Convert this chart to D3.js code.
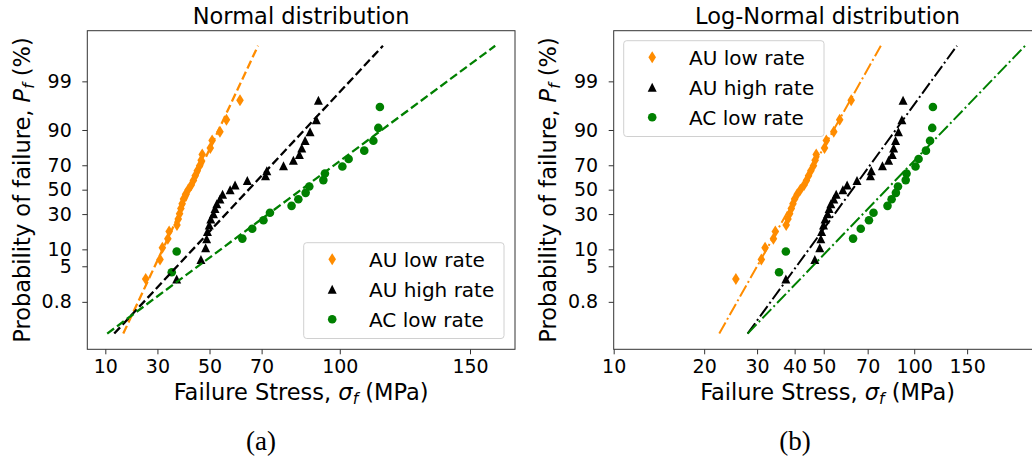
<!DOCTYPE html>
<html>
<head>
<meta charset="utf-8">
<script src="https://cdn.jsdelivr.net/npm/d3@7"></script>
<style>
  html, body { margin: 0; padding: 0; background: #fff; }
  svg { display: block; font-family: "DejaVu Sans", sans-serif; }
</style>
</head>
<body>
<svg id="chart" width="1032" height="467"></svg>
<script>
// ---------------- data ----------------
const categories = ["AU low rate", "AU high rate", "AC low rate"];
const colors = ["#ff8c00", "#000000", "#008000"];
const markers = ["diamond", "triangle", "circle"];

// sorted failure stresses (MPa)
const auLowStress  = [25.5, 31.0, 31.9, 34.0, 34.5, 37.5, 38.0, 38.5, 39.0, 39.5,
                      40.0, 40.8, 41.8, 43.0, 43.8, 44.5, 45.3, 46.2, 46.8, 47.2,
                      50.3, 51.0, 54.0, 56.5, 61.7];
const auHighStress = [37.4, 46.7, 48.5, 48.9, 49.2, 49.9, 50.5, 51.5, 52.1, 52.8,
                      54.0, 55.0, 57.9, 59.8, 64.5, 71.5, 72.0, 78.4, 82.2, 84.5,
                      85.4, 86.7, 88.6, 91.0, 91.8];
const acLowStress  = [35.5, 37.4, 62.6, 66.4, 70.7, 73.2, 81.5, 84.1, 86.9, 88.3,
                      93.7, 94.3, 101.0, 103.4, 109.4, 112.9, 114.8, 115.4];
const seriesStress = [auLowStress, auHighStress, acLowStress];

// fitted distribution parameters (normal: mean/sd in MPa; log-normal: median MPa / sd of ln)
const normalMu    = [42.75, 65.0, 85.2];
const normalSigma = [8.37, 16.69, 24.1];
const logMedian   = [41.7, 62.2, 80.8];
const logSigma    = [0.2003, 0.2595, 0.344];
const fitProbRange = [0.001, 0.999];

// tick labels
const probTicks = [0.8, 5, 10, 30, 50, 70, 90, 99];
const xTicksNormal = [10, 30, 50, 70, 100, 150];
const xTicksLog = [10, 20, 30, 40, 50, 70, 100, 150];

// ---------------- helpers ----------------
function normInv(p) {
  const a = [-3.969683028665376e+01, 2.209460984245205e+02, -2.759285104469687e+02,
             1.383577518672690e+02, -3.066479806614716e+01, 2.506628277459239e+00];
  const b = [-5.447609879822406e+01, 1.615858368580409e+02, -1.556989798598866e+02,
             6.680131188771972e+01, -1.328068155288572e+01];
  const c = [-7.784894002430293e-03, -3.223964580411365e-01, -2.400758277161838e+00,
             -2.549671010615606e+00, 4.374664141464968e+00, 2.938163982698783e+00];
  const d = [7.784695709041462e-03, 3.224671290700398e-01, 2.445134137142996e+00,
             3.754408661907416e+00];
  const pl = 0.02425, ph = 1 - pl;
  let q, r;
  if (p < pl) {
    q = Math.sqrt(-2 * Math.log(p));
    return (((((c[0]*q+c[1])*q+c[2])*q+c[3])*q+c[4])*q+c[5]) /
           ((((d[0]*q+d[1])*q+d[2])*q+d[3])*q+1);
  } else if (p <= ph) {
    q = p - 0.5; r = q * q;
    return (((((a[0]*r+a[1])*r+a[2])*r+a[3])*r+a[4])*r+a[5])*q /
           (((((b[0]*r+b[1])*r+b[2])*r+b[3])*r+b[4])*r+1);
  } else {
    q = Math.sqrt(-2 * Math.log(1 - p));
    return -(((((c[0]*q+c[1])*q+c[2])*q+c[3])*q+c[4])*q+c[5]) /
            ((((d[0]*q+d[1])*q+d[2])*q+d[3])*q+1);
  }
}
// Benard median-rank plotting position
const medianRank = (i, n) => (i + 1 - 0.3) / (n + 0.4);

const svg = d3.select("#chart");

const symbolFor = {
  diamond: d => {
    const h = 6, w = 3.8;
    return `M0,${-h}L${w},0L0,${h}L${-w},0Z`;
  },
  triangle: d => {
    const s = 4.5;
    return `M0,${-s}L${s},${s}L${-s},${s}Z`;
  },
  circle: d => {
    const r = 4.3;
    return `M${r},0A${r},${r} 0 1,1 ${-r},0A${r},${r} 0 1,1 ${r},0Z`;
  }
};

function drawPanel(opts) {
  const { left, right, top, bottom, xScale, xTicks, title, lineDash, lineWidth,
          fitX, legendPos, ylabelX } = opts;
  const y = d3.scaleLinear().domain([-3.428, 3.414]).range([bottom, top]);
  const g = svg.append("g");
  const clipId = "clip" + Math.round(left);
  svg.append("clipPath").attr("id", clipId).append("rect")
    .attr("x", left).attr("y", top).attr("width", right - left).attr("height", bottom - top);

  const plot = g.append("g").attr("clip-path", `url(#${clipId})`);

  // points
  seriesStress.forEach((arr, si) => {
    const n = arr.length;
    plot.append("g").selectAll("path").data(arr).join("path")
      .attr("d", symbolFor[markers[si]])
      .attr("transform", (v, i) => `translate(${xScale(v)},${y(normInv(medianRank(i, n)))})`)
      .attr("fill", colors[si]);
  });
  // fit lines
  const zr = fitProbRange.map(normInv);
  seriesStress.forEach((arr, si) => {
    const pts = zr.map(z => [xScale(fitX(si, z)), y(z)]);
    plot.append("path")
      .attr("d", d3.line()(pts))
      .attr("fill", "none")
      .attr("stroke", colors[si])
      .attr("stroke-width", lineWidth)
      .attr("stroke-dasharray", lineDash);
  });

  // frame
  g.append("rect").attr("x", left).attr("y", top)
    .attr("width", right - left).attr("height", bottom - top)
    .attr("fill", "none").attr("stroke", "#333").attr("stroke-width", 1);

  // x axis
  const xa = g.append("g").attr("transform", `translate(0,${bottom})`)
    .call(d3.axisBottom(xScale).tickValues(xTicks).tickFormat(d3.format("d"))
      .tickSize(5).tickPadding(5));
  xa.select(".domain").remove();
  xa.selectAll("text").attr("font-size", 19).attr("fill", "#000")
    .attr("font-family", "DejaVu Sans");
  xa.selectAll("line").attr("stroke", "#333");

  // y axis
  const ya = g.append("g").attr("transform", `translate(${left},0)`)
    .call(d3.axisLeft(y).tickValues(probTicks.map(p => normInv(p / 100)))
      .tickFormat((d, i) => String(probTicks[i])).tickSize(5).tickPadding(10.5));
  ya.select(".domain").remove();
  ya.selectAll("text").attr("font-size", 19).attr("fill", "#000")
    .attr("font-family", "DejaVu Sans");
  ya.selectAll("line").attr("stroke", "#333");

  const cx = (left + Math.min(right, 1041.4)) / 2;
  // title
  g.append("text").attr("x", cx).attr("y", 24).attr("text-anchor", "middle")
    .attr("font-size", 22.5).text(title);

  // x label
  const xl = g.append("text").attr("x", (left + right) / 2).attr("y", 399.5)
    .attr("text-anchor", "middle").attr("font-size", 22.5);
  xl.append("tspan").text("Failure Stress, ");
  xl.append("tspan").attr("font-style", "italic").text("σ");
  xl.append("tspan").attr("font-style", "italic").attr("font-size", 15.5).attr("dy", 4).text("f");
  xl.append("tspan").attr("dy", -4).text(" (MPa)");

  // y label
  const yl = g.append("text")
    .attr("transform", `translate(${ylabelX},${(top + bottom) / 2}) rotate(-90)`)
    .attr("text-anchor", "middle").attr("font-size", 22.5);
  yl.append("tspan").text("Probability of failure, ");
  yl.append("tspan").attr("font-style", "italic").text("P");
  yl.append("tspan").attr("font-style", "italic").attr("font-size", 15.5).attr("dy", 4).text("f");
  yl.append("tspan").attr("dy", -4).text(" (%)");

  // legend
  const lg = g.append("g").attr("transform", `translate(${legendPos[0]},${legendPos[1]})`);
  lg.append("rect").attr("x", 0).attr("y", 0).attr("width", 200.3).attr("height", 95.8)
    .attr("rx", 3).attr("fill", "#fff").attr("fill-opacity", 0.8)
    .attr("stroke", "#d0d0d0").attr("stroke-width", 1);
  categories.forEach((c, i) => {
    const yy = 16.5 + i * 30;
    lg.append("path").attr("d", symbolFor[markers[i]]())
      .attr("transform", `translate(28.5,${yy})`).attr("fill", colors[i]);
    lg.append("text").attr("x", 65.3).attr("y", yy + 7.4).attr("font-size", 20).text(c);
  });
}

// Panel (a): normal probability plot
drawPanel({
  left: 87.3, right: 515, top: 30.7, bottom: 349.3,
  xScale: d3.scaleLinear().domain([3.08, 167.27]).range([87.3, 515]),
  xTicks: xTicksNormal,
  title: "Normal distribution",
  lineDash: "8.5,3.7", lineWidth: 2.3,
  fitX: (si, z) => normalMu[si] + normalSigma[si] * z,
  legendPos: [303.7, 242.7],
  ylabelX: 30
});

// Panel (b): log-normal probability plot
drawPanel({
  left: 613.7, right: 1041.4, top: 30.7, bottom: 349.3,
  xScale: d3.scaleLog().domain([10, 265]).range([613.7, 1041.4]),
  xTicks: xTicksLog,
  title: "Log-Normal distribution",
  lineDash: "12.8,3.2,2,3.2", lineWidth: 2,
  fitX: (si, z) => logMedian[si] * Math.exp(logSigma[si] * z),
  legendPos: [623.7, 40.7],
  ylabelX: 556
});

// sub-figure captions
svg.append("text").attr("x", 261).attr("y", 450).attr("text-anchor", "middle")
  .attr("font-family", "Liberation Serif, serif").attr("font-size", 27).text("(a)");
svg.append("text").attr("x", 795).attr("y", 450).attr("text-anchor", "middle")
  .attr("font-family", "Liberation Serif, serif").attr("font-size", 27).text("(b)");
</script>
</body>
</html>
